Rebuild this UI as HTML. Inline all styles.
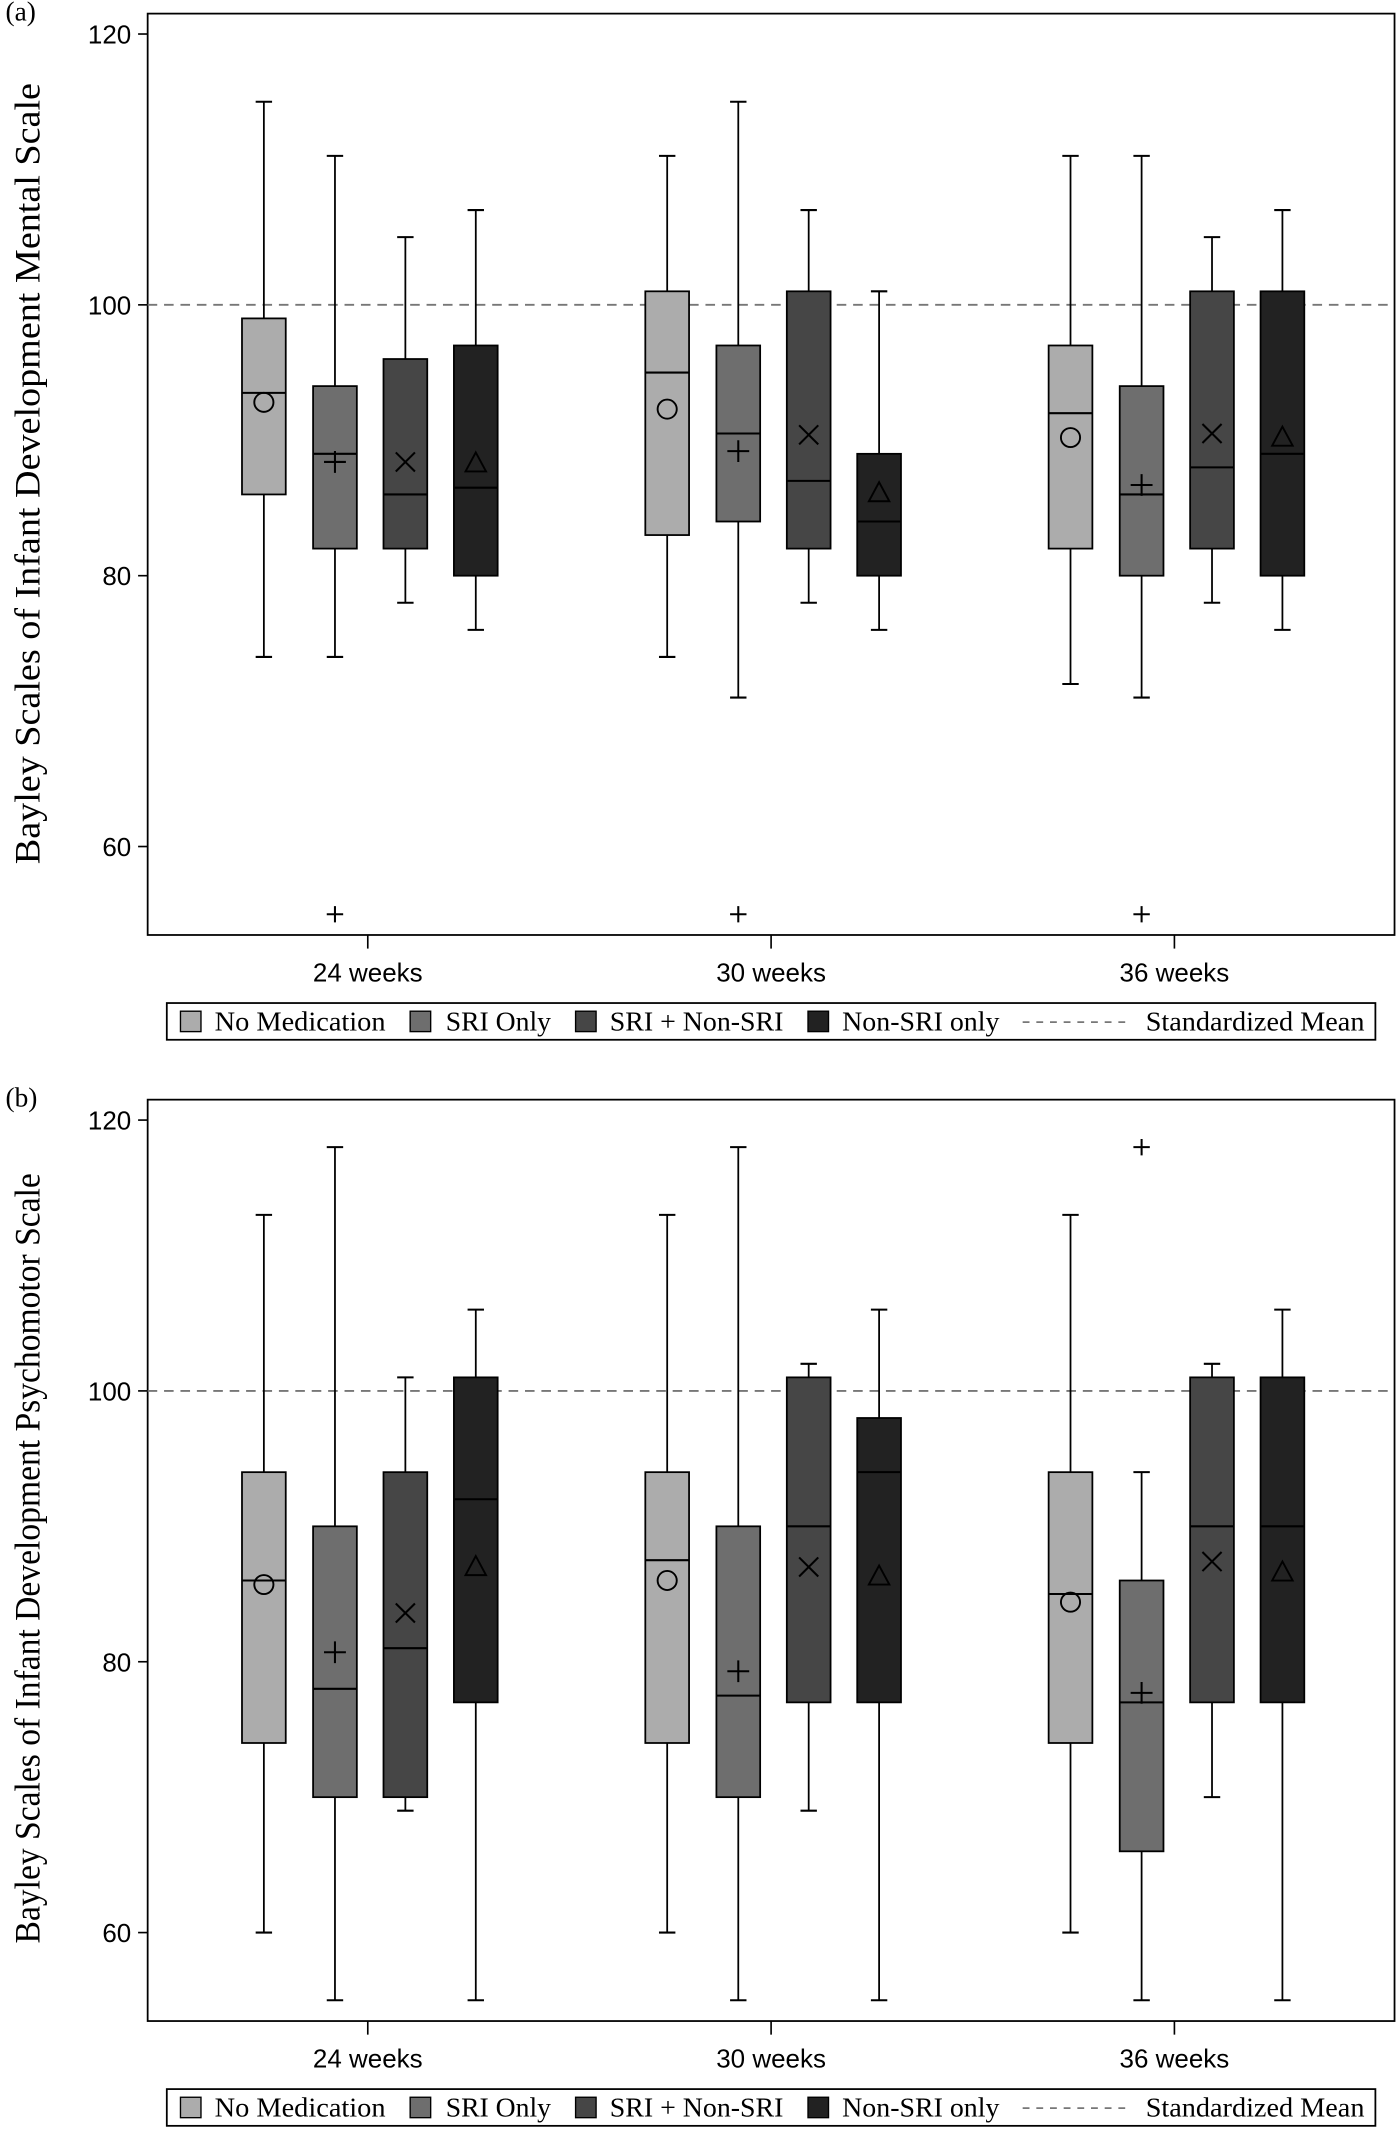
<!DOCTYPE html>
<html><head><meta charset="utf-8"><style>
html,body{margin:0;padding:0;background:#fff;}
svg{display:block;}
</style></head><body>
<svg id="chart" width="1400" height="2134" viewBox="0 0 1024 1568" preserveAspectRatio="none" xmlns="http://www.w3.org/2000/svg"></svg>
<script>
// ---- data ----
const timepoints = ["24 weeks", "30 weeks", "36 weeks"];
const groups = ["No Medication", "SRI Only", "SRI + Non-SRI", "Non-SRI only"];
const yTicks = [60, 80, 100, 120];
const standardizedMean = 100;
// panel a (Mental Scale): per timepoint, per group
const mentalLow    = [[74,74,78,76],[74,71,78,76],[72,71,78,76]];
const mentalQ1     = [[86,82,82,80],[83,84,82,80],[82,80,82,80]];
const mentalMedian = [[93.5,89,86,86.5],[95,90.5,87,84],[92,86,88,89]];
const mentalQ3     = [[99,94,96,97],[101,97,101,89],[97,94,101,101]];
const mentalHigh   = [[115,111,105,107],[111,115,107,101],[111,111,105,107]];
const mentalMean   = [[92.8,88.4,88.4,88.3],[92.3,89.2,90.4,86.1],[90.2,86.7,90.5,90.2]];
const mentalOutliers = [[0,55],[1,55],[2,55]]; // [timepoint, value] for SRI Only
// panel b (Psychomotor Scale)
const psychLow    = [[60,55,69,55],[60,55,69,55],[60,55,70,55]];
const psychQ1     = [[74,70,70,77],[74,70,77,77],[74,66,77,77]];
const psychMedian = [[86,78,81,92],[87.5,77.5,90,94],[85,77,90,90]];
const psychQ3     = [[94,90,94,101],[94,90,101,98],[94,86,101,101]];
const psychHigh   = [[113,118,101,106],[113,118,102,106],[113,94,102,106]];
const psychMean   = [[85.7,80.7,83.6,87],[86,79.3,87,86.3],[84.4,77.7,87.4,86.6]];
const psychOutliers = [[2,118]];

const fills = ["#acacac","#6e6e6e","#464646","#222222"];
const NS = "http://www.w3.org/2000/svg";
const svg = document.getElementById("chart");
function mk(tag, attrs, parent){ const e=document.createElementNS(NS,tag); for(const k in attrs) e.setAttribute(k,attrs[k]); (parent||svg).appendChild(e); return e; }

function drawPanel(p){
  const g = mk("g",{});
  
  
  const L=108,R=1020,T=p.top,B=p.top+677;
  const yScale = v => p.y120 + (120-v)*(p.y60-p.y120)/60;
  const xCenter = i => 269 + i*295;
  const offs = [-76,-24,27.5,79];
  const bw = 32;
  const fr = mk("rect",{x:L,y:T,width:R-L,height:B-T,fill:"none",stroke:"#000","stroke-width":1.3},g);
   
  const lbl = mk("text",{x:4,y:T+5,"font-family":"Liberation Serif, serif","font-size":20},g);
  lbl.textContent = p.label;
   
  yTicks.forEach(t=>{
    const y=yScale(t);
    mk("line",{x1:L-7,x2:L,y1:y,y2:y,stroke:"#000","stroke-width":1.2},g);
    const tx=mk("text",{x:L-12,y:y+7,"text-anchor":"end","font-family":"Liberation Sans, sans-serif","font-size":19},g);
    tx.textContent=t;
     
  });
  const yt = mk("text",{transform:`translate(29,${p.titleCenter}) rotate(-90)`,"text-anchor":"middle","font-family":"Liberation Serif, serif","font-size":26,textLength:p.titleLen,lengthAdjust:"spacingAndGlyphs"},g);
  yt.textContent=p.title;
   
  timepoints.forEach((t,i)=>{
    const x=xCenter(i);
    mk("line",{x1:x,x2:x,y1:B,y2:B+10,stroke:"#000","stroke-width":1.2},g);
    const tx=mk("text",{x:x,y:B+34,"text-anchor":"middle","font-family":"Liberation Sans, sans-serif","font-size":19},g);
    tx.textContent=t;
     
  });
  const yr=yScale(standardizedMean);
  const rl=mk("line",{x1:L,x2:R,y1:yr,y2:yr,stroke:"#777","stroke-width":1.4,"stroke-dasharray":"7,5"},g);
   
  timepoints.forEach((t,i)=>{
    groups.forEach((gname,j)=>{
      const cx=xCenter(i)+offs[j];
      const bg=mk("g",{},g);
      
      
      const lo=yScale(p.low[i][j]), q1=yScale(p.q1[i][j]), md=yScale(p.med[i][j]), q3=yScale(p.q3[i][j]), hi=yScale(p.high[i][j]);
      mk("line",{x1:cx,x2:cx,y1:hi,y2:lo,stroke:"#000","stroke-width":1.3},bg);
      mk("line",{x1:cx-6,x2:cx+6,y1:hi,y2:hi,stroke:"#000","stroke-width":1.5},bg);
      mk("line",{x1:cx-6,x2:cx+6,y1:lo,y2:lo,stroke:"#000","stroke-width":1.5},bg);
      mk("rect",{x:cx-bw/2,y:q3,width:bw,height:q1-q3,fill:fills[j],stroke:"#000","stroke-width":1.3},bg);
      mk("line",{x1:cx-bw/2,x2:cx+bw/2,y1:md,y2:md,stroke:"#000","stroke-width":1.5},bg);
      const my=yScale(p.mean[i][j]);
      if(j===0) mk("circle",{cx:cx,cy:my,r:7,fill:"none",stroke:"#000","stroke-width":1.4},bg);
      else if(j===1){ mk("path",{d:`M${cx-8} ${my}H${cx+8}M${cx} ${my-8}V${my+8}`,stroke:"#000","stroke-width":1.5,fill:"none"},bg); }
      else if(j===2){ mk("path",{d:`M${cx-7} ${my-7}L${cx+7} ${my+7}M${cx+7} ${my-7}L${cx-7} ${my+7}`,stroke:"#000","stroke-width":1.5,fill:"none"},bg); }
      else mk("path",{d:`M${cx} ${my-8}L${cx+7.5} ${my+6}L${cx-7.5} ${my+6}Z`,stroke:"#000","stroke-width":1.4,fill:"none"},bg);
    });
  });
  p.outliers.forEach(o=>{
    const cx=xCenter(o[0])+offs[1], y=yScale(o[1]);
    const op=mk("path",{d:`M${cx-6} ${y}H${cx+6}M${cx} ${y-6}V${y+6}`,stroke:"#000","stroke-width":1.5,fill:"none"},g);
     
  });
  const lg=mk("g",{},g);
   
  const ly=p.legendTop;
  mk("rect",{x:122,y:ly,width:884,height:27,fill:"#fff",stroke:"#000","stroke-width":1.3},lg);
  const sx=[132,300,421,591], tx=[157,326,446,616], tl=[125,77,127,115];
  groups.forEach((gname,j)=>{
    const e=mk("g",{},lg);
     
    mk("rect",{x:sx[j],y:ly+6,width:15,height:15,fill:fills[j],stroke:"#000","stroke-width":1},e);
    const t=mk("text",{x:tx[j],y:ly+20,"font-family":"Liberation Serif, serif","font-size":20,textLength:tl[j],lengthAdjust:"spacingAndGlyphs"},e);
    t.textContent=gname;
  });
  const e=mk("g",{},lg);
   
  mk("line",{x1:748,x2:828,y1:ly+14,y2:ly+14,stroke:"#777","stroke-width":1.3,"stroke-dasharray":"5,5"},e);
  const t=mk("text",{x:838,y:ly+20,"font-family":"Liberation Serif, serif","font-size":20,textLength:160,lengthAdjust:"spacingAndGlyphs"},e);
  t.textContent="Standardized Mean";
}

drawPanel({name:"panel-a-mental",label:"(a)",title:"Bayley Scales of Infant Development Mental Scale",titleCenter:348,titleLen:574,top:10,y120:25,y60:622,legendTop:737,
  low:mentalLow,q1:mentalQ1,med:mentalMedian,q3:mentalQ3,high:mentalHigh,mean:mentalMean,outliers:mentalOutliers});
drawPanel({name:"panel-b-psychomotor",label:"(b)",title:"Bayley Scales of Infant Development Psychomotor Scale",titleCenter:1145,titleLen:566,top:808,y120:823,y60:1420,legendTop:1535,
  low:psychLow,q1:psychQ1,med:psychMedian,q3:psychQ3,high:psychHigh,mean:psychMean,outliers:psychOutliers});
</script>
</body></html>
